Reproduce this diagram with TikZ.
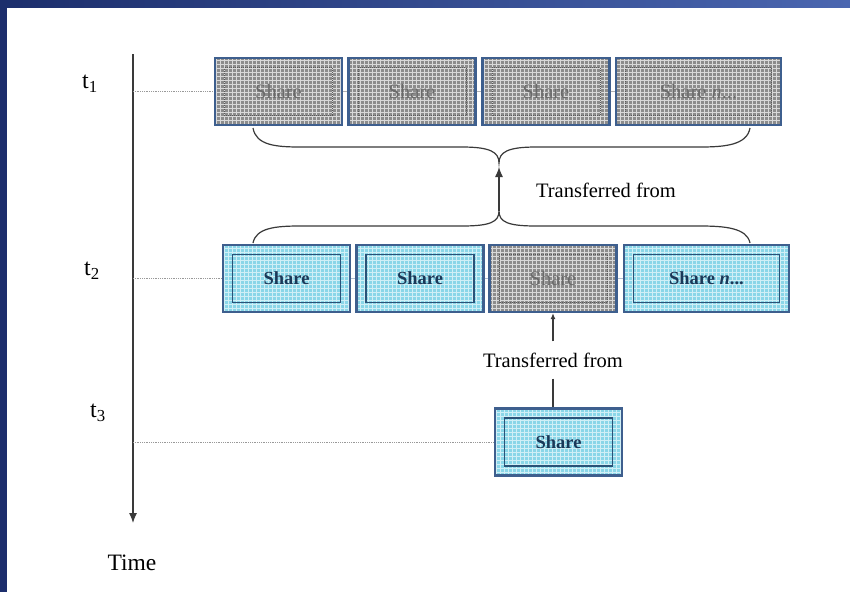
\documentclass[tikz,border=0pt]{standalone}
\usepackage{fontspec}
\setmainfont{Liberation Serif}
\usetikzlibrary{patterns.meta,arrows.meta}

\definecolor{frameblue}{HTML}{1C2E6C}
\definecolor{framelight}{HTML}{4A66B0}
\definecolor{boxedge}{HTML}{3E5F8E}
\definecolor{shareblue}{HTML}{8AD6E8}
\definecolor{sharegray}{HTML}{8C8C8C}
\definecolor{sharetext}{HTML}{1A3858}
\definecolor{innerblue}{HTML}{2A5278}
\definecolor{oldtext}{HTML}{6A6A6A}
\definecolor{axisgray}{HTML}{3A3A3A}

\tikzdeclarepattern{
  name=boxgrid,
  type=uncolored,
  bounding box={(-0.5pt,-0.5pt) and (4.5pt,4.5pt)},
  tile size={(4pt,4pt)},
  code={\draw[line width=0.6pt] (0pt,0pt) -- (4pt,0pt) (0pt,0pt) -- (0pt,4pt);}
}

\begin{document}
\begin{tikzpicture}[x=1pt,y=-1pt,
  font=\fontsize{20.5}{24}\selectfont,
  sharebox/.style={draw=boxedge,line width=2.2pt,minimum width=127pt,minimum height=67pt,
    inner sep=0pt,preaction={fill=shareblue},pattern=boxgrid,pattern color=white!60!shareblue,
    text=sharetext,font=\fontsize{18.5}{22}\selectfont\bfseries,
    path picture={\draw[innerblue,line width=1.4pt]
      ([shift={(9.5pt,9.5pt)}]path picture bounding box.south west) rectangle
      ([shift={(-9.5pt,-9.5pt)}]path picture bounding box.north east);}},
  oldbox/.style={draw=boxedge,line width=2.2pt,minimum width=127pt,minimum height=67pt,
    inner sep=0pt,preaction={fill=sharegray},pattern=boxgrid,pattern color=gray!30,
    text=oldtext,
    path picture={\draw[black!65,line width=1pt,densely dotted]
      ([shift={(9.5pt,9.5pt)}]path picture bounding box.south west) rectangle
      ([shift={(-9.5pt,-9.5pt)}]path picture bounding box.north east);}},
  wide/.style={minimum width=165pt},
  tickline/.style={gray!80,line width=0.8pt,densely dotted},
  gapline/.style={line width=0.8pt},
  brace/.style={axisgray,line width=1.2pt},
  xfer/.style={inner sep=11pt},
  timetip/.style={-{Latex[length=10pt,width=8pt]}}
]
  \useasboundingbox (0,0) rectangle (850,592);
  \fill[white] (0,0) rectangle (850,592);
  \fill[frameblue] (0,0) rectangle (7,592);
  \shade[left color=frameblue,right color=framelight] (0,0) rectangle (850,7);

  % time axis
  \coordinate (axtop) at (133,54);
  \coordinate (axbot) at (133,523);
  \draw[axisgray,line width=1.2pt,timetip] (axtop) -- (axbot);
  \node (time) at (132,563) {\fontsize{23.5}{26}\selectfont Time};
  \node (t1) at (90,84) {\fontsize{24}{26}\selectfont t\textsubscript{1}};
  \node (t2) at (92,271) {\fontsize{24}{26}\selectfont t\textsubscript{2}};
  \node (t3) at (98,413) {\fontsize{24}{26}\selectfont t\textsubscript{3}};

  % shares at t1
  \node[oldbox] (r1a) at (278.5,91.5) {Share};
  \node[oldbox] (r1b) at (412,91.5) {Share};
  \node[oldbox] (r1c) at (546,91.5) {Share};
  \node[oldbox,wide] (r1d) at (698.5,91.5) {Share \textit{n}...};

  % shares at t2
  \node[sharebox] (r2a) at (286.5,278.5) {Share};
  \node[sharebox] (r2b) at (420,278.5) {Share};
  \node[oldbox] (r2c) at (553,278.5) {Share};
  \node[sharebox,wide] (r2d) at (706.5,278.5) {Share \textit{n}...};

  % share at t3
  \node[sharebox] (r3) at (558.5,442) {Share};

  \draw[tickline] (axtop |- r1a.west) -- (r1a.west);
  \draw[tickline] (axtop |- r2a.west) -- (r2a.west);
  \draw[tickline] (axtop |- r3.west) -- (r3.west);

  \draw[gapline,gray!60] (r1a.east) -- (r1b.west) (r1b.east) -- (r1c.west) (r1c.east) -- (r1d.west);
  \draw[gapline,boxedge!40] (r2a.east) -- (r2b.west) (r2b.east) -- (r2c.west) (r2c.east) -- (r2d.west);

  % braces
  \coordinate (tipup) at (499,163);
  \coordinate (tipdown) at (499,211);
  \draw[brace] (253,128) .. controls (256,145) and (275,147) .. (300,147) -- (462,147)
    .. controls (490,147) and (499,152) .. (tipup)
    .. controls (499,152) and (508,147) .. (536,147) -- (700,147)
    .. controls (725,147) and (747,145) .. (750,128);
  \draw[brace] (253,243) .. controls (256,228) and (275,226) .. (300,226) -- (462,226)
    .. controls (490,226) and (499,222) .. (tipdown)
    .. controls (499,222) and (508,226) .. (536,226) -- (700,226)
    .. controls (725,226) and (747,228) .. (750,243);
  \draw[axisgray,line width=1.2pt,timetip] (tipdown) -- ([yshift=-4pt]tipup);
  \node (xfer1) at (606,190) {Transferred from};

  \node[xfer] (xfer2) at (553,360) {Transferred from};
  \draw[axisgray,line width=1.2pt,-{Latex[length=6pt,width=5pt]}] (xfer2.north) -- (r2c.south);
  \draw[axisgray,line width=1.2pt] (xfer2.south) -- (xfer2.south |- r3.north);
\end{tikzpicture}
\end{document}
